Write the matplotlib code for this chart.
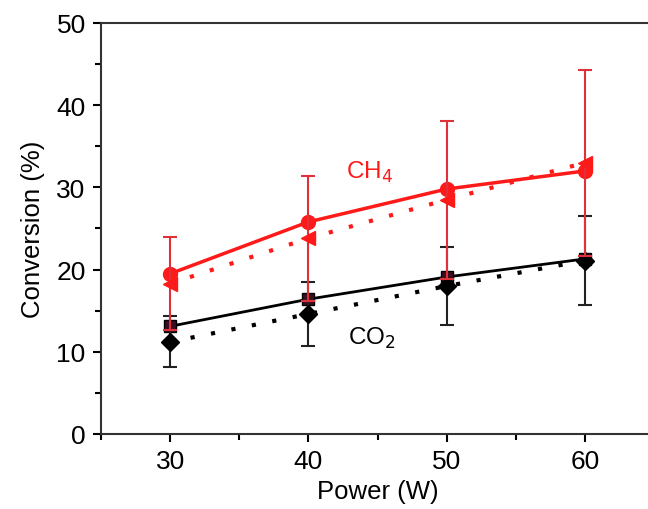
import matplotlib
matplotlib.use("Agg")
import matplotlib.pyplot as plt
from matplotlib.ticker import MultipleLocator

plt.rcParams['font.family'] = ['Liberation Sans', 'DejaVu Sans']

power = [30, 40, 50, 60]
ch4_solid = [19.5, 25.8, 29.8, 32.0]
ch4_dotted = [18.3, 23.8, 28.5, 33.0]
ch4_dotted_err = [5.7, 7.6, 9.6, 11.3]
co2_solid = [13.1, 16.4, 19.1, 21.3]
co2_dotted = [11.2, 14.6, 18.0, 21.1]
co2_dotted_err = [3.1, 3.9, 4.7, 5.4]

fig = plt.figure(figsize=(6.48, 5.10), dpi=100)
ax = fig.add_axes([101/648, 1-435/510, 553/648, 411/510])

red = '#ff1a1a'
errred = '#e0303a'

# CO2
ax.plot(power, co2_solid, '-', color='black', lw=2.0, marker='s', ms=9,
        mfc='#3a1020', mec='black', zorder=3)
ax.errorbar(power, co2_dotted, yerr=co2_dotted_err, fmt='D', color='black',
            ms=9, ecolor='#222222', elinewidth=1.5, capsize=5, capthick=1.5, zorder=3)
ax.plot(power, co2_dotted, linestyle=(0, (1, 4)), color='black', lw=3, zorder=2)

# CH4
ax.plot(power, ch4_solid, '-', color=red, lw=2.5, marker='o', ms=10, zorder=4)
ax.errorbar(power, ch4_dotted, yerr=ch4_dotted_err, fmt='<', color=red, ms=10,
            ecolor=errred, elinewidth=1.5, capsize=5, capthick=1.5, zorder=4)
ax.plot(power, ch4_dotted, linestyle=(0, (1, 4)), color=red, lw=3, zorder=2)

ax.text(44.45, 32.0, 'CH$_4$', color=red, fontsize=17.5, ha='center', va='center')
ax.text(44.6, 11.8, 'CO$_2$', color='black', fontsize=17.5, ha='center', va='center')

ax.set_xlim(25, 65)
ax.set_ylim(0, 50)
ax.xaxis.set_major_locator(MultipleLocator(10))
ax.xaxis.set_minor_locator(MultipleLocator(5))
ax.yaxis.set_major_locator(MultipleLocator(10))
ax.yaxis.set_minor_locator(MultipleLocator(5))
ax.tick_params(which='major', direction='out', length=6, width=1.5, labelsize=19, pad=5)
ax.tick_params(which='minor', direction='out', length=4, width=1.5)
ax.set_xticks([30, 40, 50, 60])
for s in ax.spines.values():
    s.set_linewidth(1.5)
    s.set_color('#333333')

ax.set_xlabel('Power (W)', fontsize=18.5, labelpad=4)
ax.set_ylabel('Conversion (%)', fontsize=18.5, labelpad=8)

fig.savefig('out.png', dpi=100)
